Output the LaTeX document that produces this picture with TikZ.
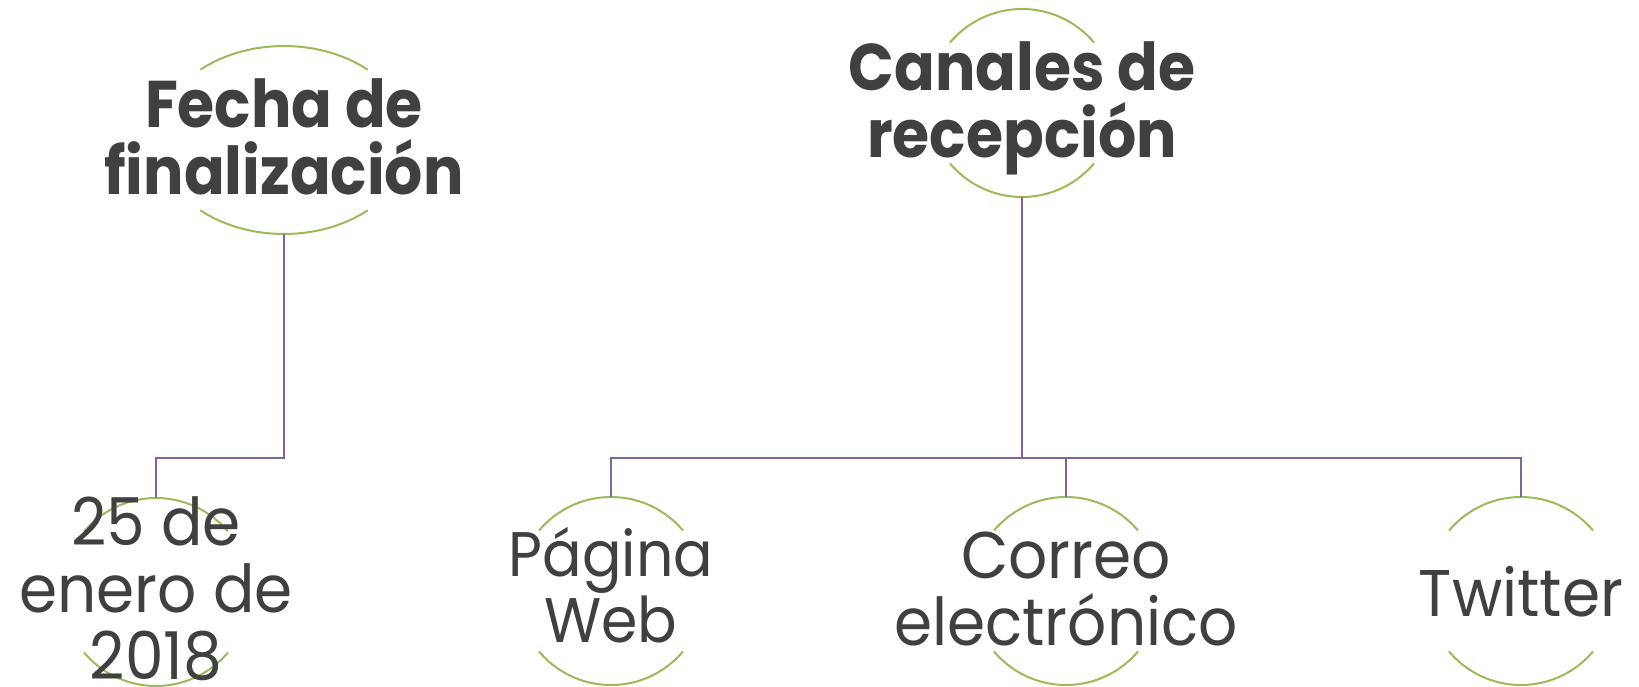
\documentclass[tikz,border=0pt]{standalone}
\usepackage{fontspec}
\setmainfont{Poppins}
\newfontfamily\lblfont{Poppins}[FakeStretch=0.93]
\newfontfamily\lblboldfont{Poppins}[FakeStretch=0.91]
\definecolor{txtgray}{HTML}{404040}
\definecolor{arcgreen}{HTML}{9BBB59}
\definecolor{connpurple}{HTML}{8064A2}
\newcommand\ringarcs[4]{%
  \draw[arcline] ([shift={(#4:#2 and #3)}]#1.center) arc[start angle=#4, end angle=180-#4, x radius=#2, y radius=#3];
  \draw[arcline] ([shift={(180+#4:#2 and #3)}]#1.center) arc[start angle=180+#4, end angle=360-#4, x radius=#2, y radius=#3];}
\begin{document}
\begin{tikzpicture}[x=1pt,y=1pt,
  ringbox/.style={rectangle, inner sep=0pt, minimum width=188pt, minimum height=188pt},
  lbl/.style={text=txtgray, align=center, inner sep=0pt, text depth=0pt, font=\lblfont\fontsize{66}{67}\selectfont},
  lblbold/.style={lbl, font=\lblboldfont\fontsize{66}{67}\selectfont\bfseries},
  arcline/.style={draw=arcgreen, line width=2pt},
  connline/.style={draw=connpurple, line width=2pt}]
\useasboundingbox (0,0) rectangle (1639,-686);
% ring nodes
\node[ringbox, minimum width=252pt] (fecha) at (284,-140) {};
\node[ringbox] (canales) at (1022,-103) {};
\node[ringbox] (fechav) at (156,-592) {};
\node[ringbox] (pagina) at (611,-591) {};
\node[ringbox] (correo) at (1066,-591) {};
\node[ringbox] (twitter) at (1521,-591) {};
\coordinate (bus) at (0,-458);
% arcs
\ringarcs{fecha}{126pt}{94pt}{48.4}
\ringarcs{canales}{94pt}{94pt}{40}
\ringarcs{fechav}{94pt}{94pt}{40}
\ringarcs{pagina}{94pt}{94pt}{40}
\ringarcs{correo}{94pt}{94pt}{40}
\ringarcs{twitter}{94pt}{94pt}{40}
% connectors
\draw[connline] (fecha.south) |- (fechav.north |- bus) -- (fechav.north);
\draw[connline] (canales.south) |- (pagina.north |- bus) -- (pagina.north);
\draw[connline] (canales.south) |- (correo.north |- bus) -- (correo.north);
\draw[connline] (canales.south) |- (twitter.north |- bus) -- (twitter.north);
% texts
\node[lblbold, yshift=3pt] (fechat) at (fecha.center) {Fecha de\\finalización};
\node[lblbold, yshift=3pt] (canalest) at (canales.center) {Canales de\\recepción};
\node[lbl, yshift=3.5pt] (fechavt) at (fechav.center) {25 de\\enero de\\2018};
\node[lbl, font=\lblfont\fontsize{63}{66}\selectfont, yshift=6pt] (paginat) at (pagina.center) {Página\\Web};
\node[lbl, yshift=2pt] (correot) at (correo.center) {Correo\\electrónico};
\node[lbl] (twittert) at (twitter.center) {Twitter};
\end{tikzpicture}
\end{document}
